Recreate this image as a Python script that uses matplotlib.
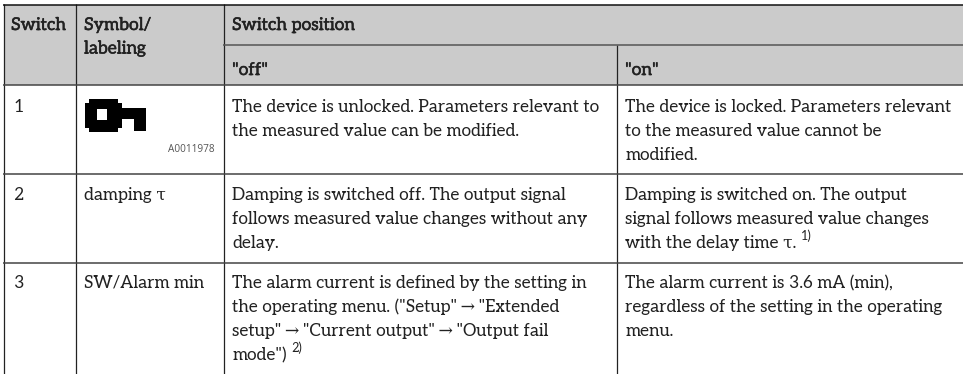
import matplotlib
matplotlib.use("Agg")
import matplotlib.pyplot as plt
import matplotlib.patheffects as pe
from matplotlib.patches import Rectangle

W, H = 963, 374
FONT = ["Aleo", "DejaVu Serif"]
header_top = ["Switch", "Symbol/", "Switch position"]
header_sub = ["labeling", "\"off\"", "\"on\""]
switches = ["1", "2", "3"]
symbols = ["", "damping τ", "SW/Alarm min"]
figure_code = "A0011978"
off_text = [
    ["The device is unlocked. Parameters relevant to", "the measured value can be modified."],
    ["Damping is switched off. The output signal", "follows measured value changes without any", "delay."],
    ["The alarm current is defined by the setting in", "the operating menu. (\"Setup\"\u2009→\u2009\"Extended", "setup\"\u2009→\u2009\"Current output\"\u2009→\u2009\"Output fail", "mode\")"],
]
on_text = [
    ["The device is locked. Parameters relevant", "to the measured value cannot be", "modified."],
    ["Damping is switched on. The output", "signal follows measured value changes", "with the delay time τ."],
    ["The alarm current is 3.6 mA (min),", "regardless of the setting in the operating", "menu."],
]

fig = plt.figure(figsize=(W/100, H/100), dpi=100)
ax = fig.add_axes([0, 0, 1, 1])
ax.set_xlim(0, W); ax.set_ylim(H, 0); ax.axis("off")
ax.add_patch(Rectangle((3.5, 4.5), W, 80.5, fc="#cbcbcb", ec="none"))

for x, y0 in [(3.5, 4), (75.5, 4), (223.5, 4), (617, 44.5)]:
    ax.plot([x, x], [y0, H], color="#222222", lw=0.9, solid_capstyle="butt")
ax.plot([3, W], [4.5, 4.5], color="#111111", lw=1.1, solid_capstyle="butt")
for y in [85, 174, 263]:
    ax.plot([3, W], [y, y], color="#444444", lw=1.1, solid_capstyle="butt")
ax.plot([223, W], [44.5, 44.5], color="#555555", lw=1.1, solid_capstyle="butt")

# key icon
for (x0, y0, x1, y1, col) in [
    (85, 102.5, 122, 127.5, "black"), (89, 98.5, 118, 131.5, "black"),
    (120, 108, 146, 119, "black"), (134, 108, 146, 131, "black"),
    (97, 109, 107, 120, "white")]:
    ax.add_patch(Rectangle((x0, y0), x1-x0, y1-y0, fc=col, ec="none"))

FS = 12.4
def T(x, y, s, bold=False, fs=FS, **k):
    t = ax.text(x, y, s, family=FONT, fontsize=fs, color="#222222", va="baseline", **k)
    if bold:
        t.set_path_effects([pe.withStroke(linewidth=0.35, foreground="#222222")])
    return t

T(11, 30, header_top[0], bold=True, fs=12.6)
T(84, 30, header_top[1], bold=True, fs=12.6)
T(232, 30, header_top[2], bold=True, fs=12.6)
T(84, 53.5, header_sub[0], bold=True, fs=12.6)
T(232, 75, header_sub[1], bold=True, fs=12.6)
T(625, 75, header_sub[2], bold=True, fs=12.6)

rows = [112, 200, 288]
STEP = 24
r = fig.canvas.get_renderer()
def note(t, s):
    bb = t.get_window_extent(r)
    x = ax.transData.inverted().transform((bb.x1, 0))[0]
    y = t.get_position()[1]
    T(x + 5, y - 8, s, fs=9)

for i in range(3):
    T(13, rows[i], switches[i])
    T(84, rows[i], symbols[i])
    for j, s in enumerate(off_text[i]):
        t = T(232, rows[i] + j*STEP, s)
        if i == 2 and j == 3:
            note(t, "2)")
    for j, s in enumerate(on_text[i]):
        t = T(625, rows[i] + j*STEP, s)
        if i == 1 and j == 2:
            note(t, "1)")

ax.text(215, 152, figure_code, family=["Open Sans", "DejaVu Sans"], fontsize=7.2,
        color="#555555", ha="right", va="baseline")
fig.savefig("out.png", dpi=100)
